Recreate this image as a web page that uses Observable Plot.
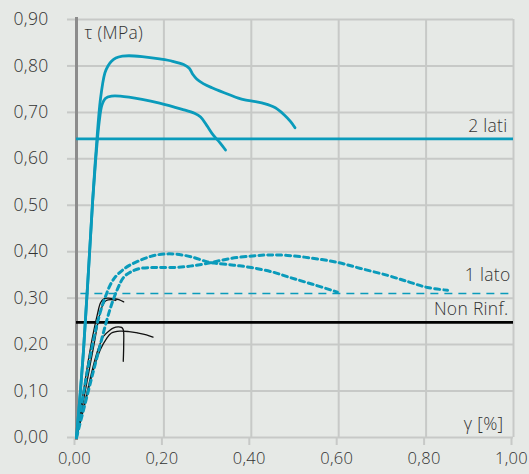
<!DOCTYPE html>
<html>
<head>
<meta charset="utf-8">
<script src="https://cdn.jsdelivr.net/npm/d3@7"></script>
<script src="https://cdn.jsdelivr.net/npm/@observablehq/plot@0.6"></script>
<style>
  html, body { margin: 0; padding: 0; background: #e6e9e6; }
</style>
</head>
<body>
<div id="chart"></div>
<script>
// ---- data ----
const xTicks = [0, 0.2, 0.4, 0.6, 0.8, 1.0];
const yTicks = [0, 0.1, 0.2, 0.3, 0.4, 0.5, 0.6, 0.7, 0.8, 0.9];

// 2 lati (solid blue)
const lati2AX = [0, 0.016, 0.037, 0.045, 0.055, 0.065, 0.072, 0.08, 0.09, 0.105, 0.12, 0.15, 0.19, 0.22, 0.245, 0.258, 0.266, 0.275, 0.29, 0.31, 0.35, 0.38, 0.41, 0.43, 0.455, 0.475, 0.49, 0.5];
const lati2AY = [0, 0.187, 0.51, 0.62, 0.73, 0.785, 0.80, 0.81, 0.817, 0.821, 0.822, 0.82, 0.815, 0.81, 0.803, 0.795, 0.782, 0.772, 0.762, 0.753, 0.738, 0.728, 0.723, 0.719, 0.71, 0.695, 0.68, 0.667];
const lati2BX = [0, 0.016, 0.037, 0.045, 0.052, 0.058, 0.066, 0.08, 0.10, 0.15, 0.19, 0.24, 0.27, 0.284, 0.298, 0.313, 0.328, 0.341];
const lati2BY = [0, 0.187, 0.51, 0.61, 0.68, 0.715, 0.73, 0.735, 0.735, 0.728, 0.72, 0.707, 0.698, 0.69, 0.672, 0.651, 0.635, 0.619];

// 1 lato (dotted blue)
const lato1AX = [0, 0.025, 0.05, 0.065, 0.078, 0.09, 0.105, 0.12, 0.142, 0.17, 0.2, 0.235, 0.27, 0.30, 0.32, 0.36, 0.40, 0.45, 0.49, 0.54, 0.597];
const lato1AY = [0, 0.144, 0.255, 0.30, 0.33, 0.347, 0.36, 0.37, 0.38, 0.39, 0.395, 0.394, 0.387, 0.378, 0.375, 0.371, 0.366, 0.356, 0.344, 0.33, 0.313];
const lato1BX = [0, 0.039, 0.06, 0.078, 0.094, 0.108, 0.125, 0.146, 0.18, 0.222, 0.26, 0.30, 0.35, 0.403, 0.44, 0.483, 0.54, 0.597, 0.65, 0.712, 0.76, 0.803, 0.849];
const lato1BY = [0, 0.144, 0.22, 0.28, 0.32, 0.345, 0.357, 0.364, 0.366, 0.366, 0.369, 0.375, 0.385, 0.391, 0.393, 0.392, 0.386, 0.377, 0.364, 0.349, 0.335, 0.323, 0.317];

// Non Rinf. (thin black)
const nr1X = [0, 0.016, 0.032, 0.048, 0.055, 0.062, 0.072, 0.085, 0.097, 0.108];
const nr1Y = [0, 0.10, 0.193, 0.266, 0.29, 0.298, 0.30, 0.299, 0.297, 0.292];
const nr2X = [0, 0.02, 0.04, 0.052, 0.06, 0.068, 0.08, 0.09];
const nr2Y = [0, 0.10, 0.20, 0.26, 0.285, 0.295, 0.297, 0.295];
const nr3X = [0, 0.02, 0.04, 0.052, 0.062, 0.075, 0.085, 0.095, 0.103, 0.107, 0.108, 0.107];
const nr3Y = [0, 0.08, 0.16, 0.197, 0.218, 0.23, 0.236, 0.238, 0.237, 0.232, 0.20, 0.164];
const nr4X = [0, 0.02, 0.04, 0.055, 0.068, 0.08, 0.10, 0.12, 0.14, 0.16, 0.175];
const nr4Y = [0, 0.075, 0.15, 0.19, 0.212, 0.225, 0.229, 0.228, 0.225, 0.221, 0.216];

// reference levels
const levelNames = ["2 lati", "1 lato", "Non Rinf."];
const levelValues = [0.643, 0.31, 0.248];

const yLabel = "τ (MPa)";
const xLabel = "γ [%]";

// ---- build tables ----
const mk = (xs, ys, id) => xs.map((x, i) => ({x, y: ys[i], id}));
const solid = [...mk(lati2AX, lati2AY, "A"), ...mk(lati2BX, lati2BY, "B")];
const dotted = [...mk(lato1AX, lato1AY, "A"), ...mk(lato1BX, lato1BY, "B")];
const thin = [...mk(nr1X, nr1Y, "1"), ...mk(nr2X, nr2Y, "2"), ...mk(nr3X, nr3Y, "3"), ...mk(nr4X, nr4Y, "4")];
const levels = levelNames.map((name, i) => ({name, y: levelValues[i]}));
const lv = name => levels.filter(d => d.name === name);

const BLUE = "#0a9bbb";
const GRID = "#c7c9c7";
const FS = 17.5;
const fmt = d => d.toFixed(2).replace(".", ",");
const labelOpts = {x: () => 1, y: "y", text: "name", textAnchor: "end", fontSize: FS, fontWeight: 300, fill: "#333"};

const chart = Plot.plot({
  width: 529,
  height: 474,
  marginTop: 19,
  marginBottom: 37,
  marginLeft: 76,
  marginRight: 16,
  style: {background: "#e6e9e6", fontFamily: "'Open Sans', sans-serif", fontSize: FS + "px", color: "#333", letterSpacing: "0.3px"},
  x: {domain: [0, 1], ticks: xTicks},
  y: {domain: [0, 0.9], ticks: yTicks},
  marks: [
    Plot.gridY(yTicks, {stroke: GRID, strokeOpacity: 1, strokeWidth: 2}),
    Plot.gridX(xTicks, {stroke: GRID, strokeOpacity: 1, strokeWidth: 2}),
    Plot.axisY(yTicks, {tickSize: 9, stroke: GRID, strokeWidth: 2, tickPadding: 19, tickFormat: fmt, fontSize: FS, fontWeight: 300, label: null}),
    Plot.axisX(xTicks, {tickSize: 8, stroke: GRID, strokeWidth: 2, tickPadding: 7, tickFormat: fmt, fontSize: 16.5, fontWeight: 300, dx: -2, label: null}),
    Plot.ruleX([0], {stroke: "#8c8c8c", strokeWidth: 3, insetTop: -2, insetBottom: -3}),
    // reference lines
    Plot.ruleY(lv("2 lati"), {y: "y", stroke: BLUE, strokeWidth: 2.6}),
    Plot.ruleY(lv("1 lato"), {y: "y", x1: 0.01, x2: 1, stroke: BLUE, strokeWidth: 1.6, strokeDasharray: "8,6"}),
    Plot.ruleY(lv("Non Rinf."), {y: "y", stroke: "#000", strokeWidth: 2.8}),
    // curves
    Plot.line(thin, {x: "x", y: "y", z: "id", stroke: "#111", strokeWidth: 1.3, curve: "catmull-rom"}),
    Plot.line(dotted, {x: "x", y: "y", z: "id", stroke: BLUE, strokeWidth: 3, strokeDasharray: "5,4", curve: "catmull-rom"}),
    Plot.line(solid, {x: "x", y: "y", z: "id", stroke: BLUE, strokeWidth: 2.8, curve: "catmull-rom"}),
    // level labels
    Plot.text(lv("2 lati"), {...labelOpts, dx: -6, dy: -12}),
    Plot.text(lv("1 lato"), {...labelOpts, dx: -3, dy: -18}),
    Plot.text(lv("Non Rinf."), {...labelOpts, dx: -5, dy: -13}),
    Plot.text([yLabel], {frameAnchor: "top-left", dx: 8, dy: 7, fontSize: FS, fontWeight: 300, fill: "#333", textAnchor: "start"}),
    Plot.text([xLabel], {frameAnchor: "bottom-right", dx: -10, dy: -8, fontSize: FS, fontWeight: 300, fill: "#333", textAnchor: "end"})
  ]
});
document.getElementById("chart").append(chart);
</script>
</body>
</html>
